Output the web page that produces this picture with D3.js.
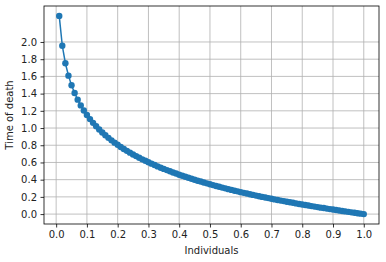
<!DOCTYPE html>
<html>
<head>
<meta charset="utf-8">
<script src="https://cdn.jsdelivr.net/npm/d3@7"></script>
<style>
  html, body { margin: 0; padding: 0; background: #fff; }
  svg { display: block; font-family: "DejaVu Sans", sans-serif; }
</style>
</head>
<body>
<svg id="chart" width="386" height="262"></svg>
<script>
// Individuals (x) and their time of death (y)
const individuals = [
  0.01, 0.02, 0.03, 0.04, 0.05, 0.06, 0.07, 0.08, 0.09, 0.10,
  0.11, 0.12, 0.13, 0.14, 0.15, 0.16, 0.17, 0.18, 0.19, 0.20,
  0.21, 0.22, 0.23, 0.24, 0.25, 0.26, 0.27, 0.28, 0.29, 0.30,
  0.31, 0.32, 0.33, 0.34, 0.35, 0.36, 0.37, 0.38, 0.39, 0.40,
  0.41, 0.42, 0.43, 0.44, 0.45, 0.46, 0.47, 0.48, 0.49, 0.50,
  0.51, 0.52, 0.53, 0.54, 0.55, 0.56, 0.57, 0.58, 0.59, 0.60,
  0.61, 0.62, 0.63, 0.64, 0.65, 0.66, 0.67, 0.68, 0.69, 0.70,
  0.71, 0.72, 0.73, 0.74, 0.75, 0.76, 0.77, 0.78, 0.79, 0.80,
  0.81, 0.82, 0.83, 0.84, 0.85, 0.86, 0.87, 0.88, 0.89, 0.90,
  0.91, 0.92, 0.93, 0.94, 0.95, 0.96, 0.97, 0.98, 0.99, 1.00
];
const timeOfDeath = [
  2.303, 1.956, 1.753, 1.609, 1.498, 1.407, 1.330, 1.263, 1.204, 1.151,
  1.104, 1.060, 1.020, 0.983, 0.949, 0.916, 0.886, 0.857, 0.830, 0.805,
  0.780, 0.757, 0.735, 0.714, 0.693, 0.674, 0.655, 0.636, 0.619, 0.602,
  0.586, 0.570, 0.554, 0.539, 0.525, 0.511, 0.497, 0.484, 0.471, 0.458,
  0.446, 0.434, 0.422, 0.410, 0.399, 0.388, 0.378, 0.367, 0.357, 0.347,
  0.337, 0.327, 0.317, 0.308, 0.299, 0.290, 0.281, 0.272, 0.264, 0.255,
  0.247, 0.239, 0.231, 0.223, 0.215, 0.208, 0.200, 0.193, 0.186, 0.178,
  0.171, 0.164, 0.157, 0.151, 0.144, 0.137, 0.131, 0.124, 0.118, 0.112,
  0.105, 0.099, 0.093, 0.087, 0.081, 0.075, 0.070, 0.064, 0.058, 0.053,
  0.047, 0.042, 0.036, 0.031, 0.026, 0.020, 0.015, 0.010, 0.005, 0.000
];
const xTicks = [0, 0.1, 0.2, 0.3, 0.4, 0.5, 0.6, 0.7, 0.8, 0.9, 1.0];
const yTicks = [0, 0.2, 0.4, 0.6, 0.8, 1.0, 1.2, 1.4, 1.6, 1.8, 2.0];

const svg = d3.select("#chart");
const margin = { left: 44, top: 6, right: 7, bottom: 38 };
const W = 386, H = 262;
const iw = W - margin.left - margin.right;
const ih = H - margin.top - margin.bottom;

const data = individuals.map((x, i) => ({ x, y: timeOfDeath[i] }));

// matplotlib style 5% margins
const [x0, x1] = d3.extent(individuals);
const [y0, y1] = d3.extent(timeOfDeath);
const px = (x1 - x0) * 0.05, py = (y1 - y0) * 0.05;

const x = d3.scaleLinear().domain([x0 - px, x1 + px]).range([0, iw]);
const y = d3.scaleLinear().domain([y0 - py, y1 + py]).range([ih, 0]);

const g = svg.append("g").attr("transform", `translate(${margin.left},${margin.top})`);

// grid
g.append("g").selectAll("line").data(xTicks).join("line")
  .attr("x1", d => x(d)).attr("x2", d => x(d))
  .attr("y1", 0).attr("y2", ih)
  .attr("stroke", "#b0b0b0").attr("stroke-width", 0.8);
g.append("g").selectAll("line").data(yTicks).join("line")
  .attr("x1", 0).attr("x2", iw)
  .attr("y1", d => y(d)).attr("y2", d => y(d))
  .attr("stroke", "#b0b0b0").attr("stroke-width", 0.8);

// axes
const xAxis = g.append("g").attr("transform", `translate(0,${ih})`)
  .call(d3.axisBottom(x).tickValues(xTicks).tickFormat(d3.format(".1f")).tickSizeOuter(0).tickSize(3.5).tickPadding(3.5));
const yAxis = g.append("g")
  .call(d3.axisLeft(y).tickValues(yTicks).tickFormat(d3.format(".1f")).tickSizeOuter(0).tickSize(3.5).tickPadding(3.5));
[xAxis, yAxis].forEach(a => {
  a.select(".domain").remove();
  a.selectAll("line").attr("stroke", "#000").attr("stroke-width", 0.8);
  a.selectAll("text").attr("fill", "#222").style("font-size", "10px")
    .style("font-family", "DejaVu Sans, sans-serif");
});

// frame
g.append("rect").attr("width", iw).attr("height", ih)
  .attr("fill", "none").attr("stroke", "#000").attr("stroke-width", 0.8);

// series
g.append("path").datum(data)
  .attr("fill", "none").attr("stroke", "#1f77b4").attr("stroke-width", 1.5)
  .attr("d", d3.line().x(d => x(d.x)).y(d => y(d.y)));
g.append("g").selectAll("circle").data(data).join("circle")
  .attr("cx", d => x(d.x)).attr("cy", d => y(d.y)).attr("r", 3.2)
  .attr("fill", "#1f77b4");

// labels
svg.append("text").attr("x", margin.left + iw / 2).attr("y", 254)
  .attr("text-anchor", "middle").style("font-size", "10px").attr("fill", "#222")
  .text("Individuals");
svg.append("text")
  .attr("transform", `translate(13,${margin.top + ih / 2}) rotate(-90)`)
  .attr("text-anchor", "middle").style("font-size", "10px").attr("fill", "#222")
  .text("Time of death");
</script>
</body>
</html>
